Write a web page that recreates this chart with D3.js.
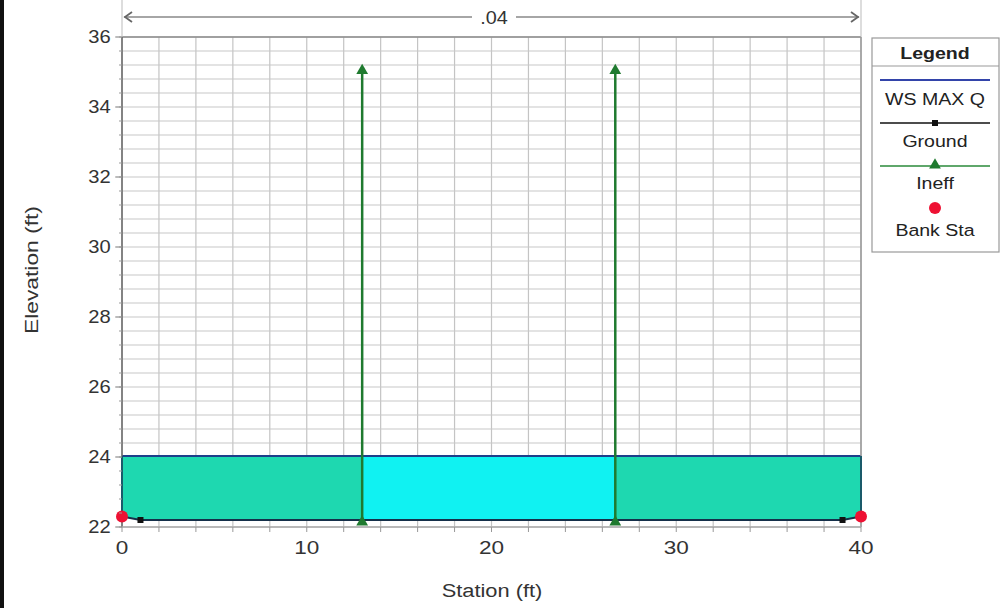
<!DOCTYPE html>
<html>
<head>
<meta charset="utf-8">
<script src="https://cdn.jsdelivr.net/npm/d3@7"></script>
<style>
  html, body { margin: 0; padding: 0; background: #fff; }
  svg { display: block; font-family: "Liberation Sans", Arial, sans-serif; }
</style>
</head>
<body>
<svg id="chart" width="1002" height="608"></svg>
<script>
// ---- data ----
const groundStations = [0, 1, 39, 40];
const groundElev = [22.3, 22.2, 22.2, 22.3];
const bankStations = [0, 40];
const bankElev = [22.3, 22.3];
const wsElev = 24.03;
const ineffStations = [13, 26.7];
const ineffElev = [35.1, 35.1];
const manningN = ".04";
const xTicks = [0, 10, 20, 30, 40];
const yTicks = [22, 24, 26, 28, 30, 32, 34, 36];
const legendItems = ["WS MAX Q", "Ground", "Ineff", "Bank Sta"];

const svg = d3.select("#chart");
const x = d3.scaleLinear().domain([0, 40]).range([122, 861]);
const y = d3.scaleLinear().domain([22, 36]).range([527, 37]);
const FF = "Liberation Sans, Arial, sans-serif";

const ground = groundStations.map((s, i) => ({ s, e: groundElev[i] }));

// left black border
svg.append("rect").attr("x", 0).attr("y", 0).attr("width", 4).attr("height", 608).attr("fill", "#111");

// grid
const g = svg.append("g");
const vGrid = d3.range(0, 40.01, 2);
const hGrid = d3.range(22, 36.01, 0.4);
g.selectAll(".vg").data(vGrid).join("line")
  .attr("x1", d => x(d)).attr("x2", d => x(d)).attr("y1", y(36)).attr("y2", y(22))
  .attr("stroke", "#c4c4c4").attr("stroke-width", 1.2);
g.selectAll(".hg").data(hGrid).join("line")
  .attr("x1", x(0)).attr("x2", x(40)).attr("y1", d => y(d)).attr("y2", d => y(d))
  .attr("stroke", "#c8c8c8").attr("stroke-width", 1.2);

// water fill
const area = d3.area().x(d => x(d.s)).y0(d => y(d.e)).y1(y(wsElev));
const defs = svg.append("defs");
const clips = [
  { id: "cl", a: 0, b: ineffStations[0], fill: "#1ed8b0" },
  { id: "cc", a: ineffStations[0], b: ineffStations[1], fill: "#10f2f2" },
  { id: "cr", a: ineffStations[1], b: 40, fill: "#1ed8b0" }
];
clips.forEach(c => {
  defs.append("clipPath").attr("id", c.id).append("rect")
    .attr("x", x(c.a)).attr("y", 0).attr("width", x(c.b) - x(c.a)).attr("height", 608);
  svg.append("path").datum(ground).attr("d", area).attr("fill", c.fill)
    .attr("clip-path", `url(#${c.id})`);
});

// WS line
svg.append("line").attr("x1", x(0)).attr("x2", x(40)).attr("y1", y(wsElev)).attr("y2", y(wsElev))
  .attr("stroke", "#1d3f8a").attr("stroke-width", 2);

// frame
svg.append("line").attr("x1", x(0)).attr("x2", x(40)).attr("y1", y(36)).attr("y2", y(36))
  .attr("stroke", "#8a8a8a").attr("stroke-width", 1.5);
svg.append("line").attr("x1", x(0)).attr("x2", x(0)).attr("y1", y(36)).attr("y2", y(22))
  .attr("stroke", "#666").attr("stroke-width", 1.5);
svg.append("line").attr("x1", x(40)).attr("x2", x(40)).attr("y1", y(36)).attr("y2", y(22))
  .attr("stroke", "#999").attr("stroke-width", 1.5);
svg.append("line").attr("x1", x(0)).attr("x2", x(40)).attr("y1", y(22)).attr("y2", y(22))
  .attr("stroke", "#aaa").attr("stroke-width", 1.5);
svg.append("line").attr("x1", x(0)).attr("x2", x(0)).attr("y1", y(wsElev)).attr("y2", y(22.2))
  .attr("stroke", "#1a5a6a").attr("stroke-width", 2);
svg.append("line").attr("x1", x(40)).attr("x2", x(40)).attr("y1", y(wsElev)).attr("y2", y(22.3))
  .attr("stroke", "#1a5a6a").attr("stroke-width", 2);

// ground line
svg.append("path").datum(ground)
  .attr("d", d3.line().x(d => x(d.s)).y(d => y(d.e)))
  .attr("fill", "none").attr("stroke", "#15304a").attr("stroke-width", 2);
svg.selectAll(".gm").data(ground).join("rect")
  .attr("x", d => x(d.s) - 3).attr("y", d => y(d.e) - 3).attr("width", 6).attr("height", 6)
  .attr("fill", "#111");

// ineffective lines
const tri = d3.symbol().type(d3.symbolTriangle).size(60);
ineffStations.forEach((s, i) => {
  svg.append("line").attr("x1", x(s)).attr("x2", x(s)).attr("y1", y(22.2)).attr("y2", y(ineffElev[i]))
    .attr("stroke", "#1f7a2f").attr("stroke-width", 2.5);
  [22.2, ineffElev[i]].forEach(e => {
    svg.append("path").attr("d", tri).attr("transform", `translate(${x(s)},${y(e) + 2})`)
      .attr("fill", "#1f7a2f");
  });
});

// bank stations
svg.selectAll(".bk").data(bankStations).join("circle")
  .attr("cx", d => x(d)).attr("cy", (d, i) => y(bankElev[i])).attr("r", 6)
  .attr("fill", "#ee1133");

// axes
const xAxis = d3.axisBottom(x).tickValues(xTicks).tickSize(0).tickPadding(14);
const xa = svg.append("g").attr("transform", `translate(0,${y(22)})`).call(xAxis);
xa.select(".domain").remove();
xa.selectAll("text").attr("font-size", 18).attr("fill", "#333").attr("font-family", FF)
  .attr("transform", "scale(1.12,1)").attr("x", function(d) { return 0; });
xa.selectAll(".tick").each(function(d) {
  d3.select(this).attr("transform", `translate(${x(d)},0) scale(1.12,1)`);
});
svg.selectAll(".xmt").data(d3.range(0, 40.01, 2)).join("line")
  .attr("x1", d => x(d)).attr("x2", d => x(d)).attr("y1", y(22)).attr("y2", y(22) + 5)
  .attr("stroke", "#999");

const yAxis = d3.axisLeft(y).tickValues(yTicks).tickSize(6).tickPadding(4);
const ya = svg.append("g").attr("transform", `translate(${x(0)},0)`).call(yAxis);
ya.select(".domain").remove();
ya.selectAll("line").attr("stroke", "#777");
ya.selectAll("text").attr("font-size", 18).attr("fill", "#333").attr("font-family", FF);
ya.selectAll(".tick").each(function(d) {
  d3.select(this).attr("transform", `translate(0,${y(d)}) scale(1.12,1)`);
});
svg.selectAll(".ymt").data(d3.range(22, 36.01, 0.4)).join("line")
  .attr("x1", x(0) - 3).attr("x2", x(0)).attr("y1", d => y(d)).attr("y2", d => y(d))
  .attr("stroke", "#999");

svg.append("text").attr("transform", "translate(492,597) scale(1.15,1)").attr("text-anchor", "middle")
  .attr("font-size", 19).attr("fill", "#333").text("Station (ft)");
svg.append("text").attr("transform", "translate(38,270) rotate(-90) scale(1.2,1)").attr("text-anchor", "middle")
  .attr("font-size", 19).attr("fill", "#333").text("Elevation (ft)");

// Manning's n arrow
const ny = 17;
svg.append("line").attr("x1", x(0)).attr("x2", x(0)).attr("y1", 0).attr("y2", y(36)).attr("stroke", "#bbb");
svg.append("line").attr("x1", x(40)).attr("x2", x(40)).attr("y1", 0).attr("y2", y(36)).attr("stroke", "#bbb");
svg.append("line").attr("x1", x(0) + 2).attr("x2", 472).attr("y1", ny).attr("y2", ny).attr("stroke", "#888").attr("stroke-width", 1.5);
svg.append("line").attr("x1", 516).attr("x2", x(40) - 2).attr("y1", ny).attr("y2", ny).attr("stroke", "#888").attr("stroke-width", 1.5);
svg.append("path").attr("d", `M${x(0) + 10},${ny - 5} L${x(0) + 3},${ny} L${x(0) + 10},${ny + 5}`)
  .attr("fill", "none").attr("stroke", "#666").attr("stroke-width", 1.8);
svg.append("path").attr("d", `M${x(40) - 10},${ny - 5} L${x(40) - 3},${ny} L${x(40) - 10},${ny + 5}`)
  .attr("fill", "none").attr("stroke", "#666").attr("stroke-width", 1.8);
svg.append("text").attr("transform", `translate(494,${ny + 7}) scale(1.1,1)`).attr("text-anchor", "middle")
  .attr("font-size", 18).attr("fill", "#333").text(manningN);

// legend
const lg = svg.append("g");
lg.append("rect").attr("x", 872).attr("y", 38).attr("width", 127).attr("height", 214)
  .attr("fill", "#fff").attr("stroke", "#999").attr("stroke-width", 1.2);
lg.append("line").attr("x1", 872).attr("x2", 999).attr("y1", 66).attr("y2", 66).attr("stroke", "#999");
const lx1 = 880, lx2 = 990, lcx = 935;
function ltext(txt, yy, bold) {
  lg.append("text").attr("transform", `translate(${lcx},${yy}) scale(1.15,1)`).attr("text-anchor", "middle")
    .attr("font-size", 17).attr("font-weight", bold ? "bold" : "normal").attr("fill", "#222").text(txt);
}
ltext("Legend", 59, true);
// WS
lg.append("line").attr("x1", lx1).attr("x2", lx2).attr("y1", 80).attr("y2", 80).attr("stroke", "#3344aa").attr("stroke-width", 2);
ltext(legendItems[0], 105);
// Ground
lg.append("line").attr("x1", lx1).attr("x2", lx2).attr("y1", 123).attr("y2", 123).attr("stroke", "#111").attr("stroke-width", 1.5);
lg.append("rect").attr("x", lcx - 3).attr("y", 120).attr("width", 6).attr("height", 6).attr("fill", "#111");
ltext(legendItems[1], 147);
// Ineff
lg.append("line").attr("x1", lx1).attr("x2", lx2).attr("y1", 166).attr("y2", 166).attr("stroke", "#2a8a3a").attr("stroke-width", 1.5);
lg.append("path").attr("d", tri).attr("transform", `translate(${lcx},${165})`).attr("fill", "#1f7a2f");
ltext(legendItems[2], 189);
// Bank
lg.append("circle").attr("cx", lcx).attr("cy", 208).attr("r", 6).attr("fill", "#ee1133");
ltext(legendItems[3], 236);
</script>
</body>
</html>
